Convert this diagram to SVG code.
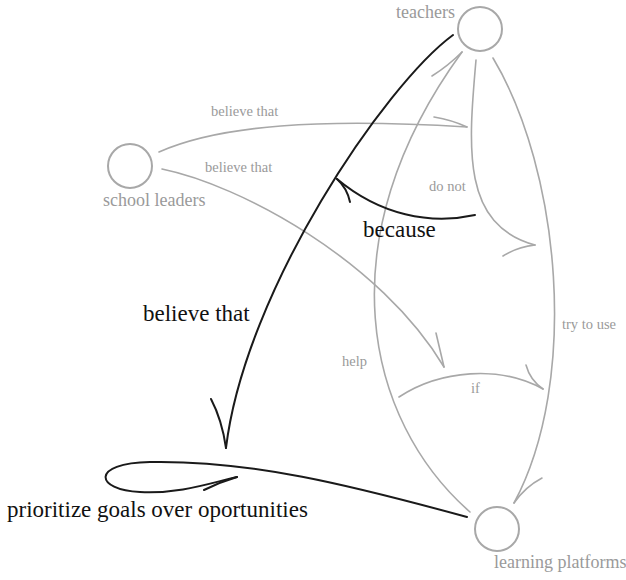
<svg xmlns="http://www.w3.org/2000/svg" width="626" height="580" viewBox="0 0 626 580">
<style>
.node{fill:none;stroke:#a8a8a8;stroke-width:2}
.lbl{font-family:"Liberation Serif","Times New Roman",serif;fill:#9a9a9a;font-size:18px}
.el{font-family:"Liberation Serif","Times New Roman",serif;fill:#9a9a9a;font-size:14.5px}
.big{font-family:"Liberation Serif","Times New Roman",serif;fill:#111;font-size:23px}
.g{fill:none;stroke:#a8a8a8;stroke-width:1.6;stroke-linecap:round}
.k{fill:none;stroke:#1a1a1a;stroke-width:2;stroke-linecap:round}
</style>
<rect width="626" height="580" fill="#fff"/>
<g id="connectors">
  <g id="e-sl-teachers">
    <path class="g" d="M159,152 C220,125 320,118 467,127"/>
    <path class="g" d="M434,117 Q452,120 467,127"/>
    <text class="el" x="211" y="116">believe that</text>
  </g>
  <g id="e-sl-if">
    <path class="g" d="M162,169 C240,185 380,260 444,367"/>
    <path class="g" d="M436,333 Q440,350 444,367"/>
    <text class="el" x="205" y="172">believe that</text>
  </g>
  <g id="e-help">
    <path class="g" d="M470,512 C365,420 325,240 462,52"/>
    <path class="g" d="M432,76 Q448,66 462,52"/>
    <text class="el" x="342" y="366">help</text>
  </g>
  <g id="e-try">
    <path class="g" d="M493,58 C560,170 580,380 514,503"/>
    <path class="g" d="M542,478 Q525,487 514,503"/>
    <text class="el" x="562" y="329">try to use</text>
  </g>
  <g id="e-donot">
    <path class="g" d="M476,60 C468,150 462,225 535,245"/>
    <path class="g" d="M503,256 Q517,247 535,245"/>
    <text class="el" x="429" y="191">do not</text>
  </g>
  <g id="e-if">
    <path class="g" d="M399,397 C440,370 500,365 543,389"/>
    <path class="g" d="M526,365 Q530,380 543,389"/>
    <text class="el" x="471" y="393">if</text>
  </g>
  <g id="e-believe">
    <path class="k" d="M453,35 C385,85 245,290 226,448"/>
    <path class="k" d="M211,399 Q222,420 226,448"/>
    <text class="big" x="143" y="321">believe that</text>
  </g>
  <g id="e-because">
    <path class="k" d="M475,215 C430,225 380,215 337,179"/>
    <path class="k" d="M350,202 Q347,188 337,179"/>
    <text class="big" x="363" y="237">because</text>
  </g>
  <g id="e-prioritize">
    <path class="k" d="M467,517 C350,485 250,460 150,462 C90,463 95,490 140,492 C180,494 210,483 237,477"/>
    <path class="k" d="M204,490 Q220,482 237,477"/>
    <text class="big" x="7" y="517">prioritize goals over oportunities</text>
  </g>
</g>
<g id="teachers">
  <circle class="node" cx="480" cy="29" r="22"/>
  <text class="lbl" x="396" y="18">teachers</text>
</g>
<g id="school-leaders">
  <circle class="node" cx="130" cy="166" r="22"/>
  <text class="lbl" x="103" y="206">school leaders</text>
</g>
<g id="learning-platforms">
  <circle class="node" cx="497" cy="529" r="22"/>
  <text class="lbl" x="494" y="568">learning platforms</text>
</g>
</svg>
